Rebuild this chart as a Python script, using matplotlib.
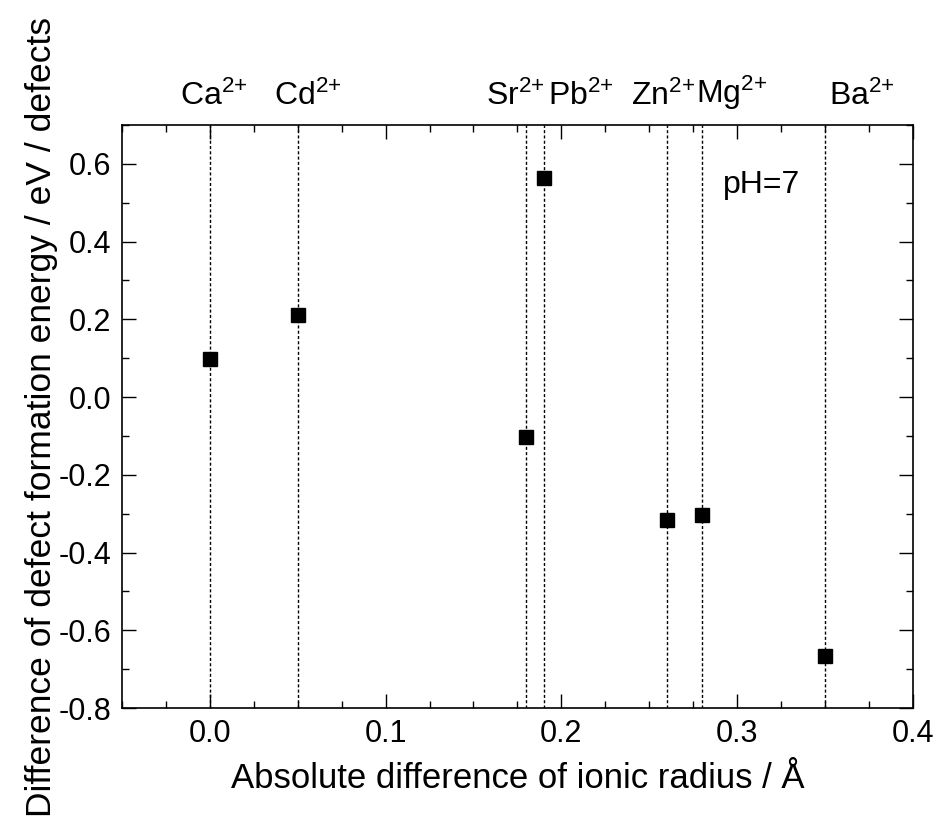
import matplotlib
matplotlib.use("Agg")
import matplotlib.pyplot as plt
from matplotlib.ticker import MultipleLocator

plt.rcParams['font.family'] = ['Liberation Sans', 'DejaVu Sans']
plt.rcParams['mathtext.fontset'] = 'custom'
plt.rcParams['mathtext.rm'] = 'Liberation Sans'
plt.rcParams['mathtext.it'] = 'Liberation Sans'

# data
ions = ['Ca', 'Cd', 'Sr', 'Pb', 'Zn', 'Mg', 'Ba']
radius_diff = [0.0, 0.05, 0.18, 0.19, 0.26, 0.28, 0.35]
energy_diff = [0.097, 0.21, -0.103, 0.563, -0.317, -0.304, -0.667]
# x centres of the ion labels above the frame
label_x = [0.002, 0.056, 0.174, 0.211, 0.258, 0.297, 0.371]

fig = plt.figure(figsize=(9.42, 8.25), dpi=100)
ax = fig.add_axes([0.1295, 0.1418, 0.8395, 0.7067])

for x in radius_diff:
    ax.axvline(x, color='black', lw=1.0, ls=(0, (2.2, 1.6)), zorder=1)

ax.plot(radius_diff, energy_diff, 's', color='black', ms=10, zorder=3)

for name, lx in zip(ions, label_x):
    ax.text(lx, 1.022, name + r'$^{2{+}}$', transform=ax.get_xaxis_transform(),
            ha='center', va='bottom', fontsize=23)

ax.text(0.314, 0.545, 'pH=7', ha='center', va='center', fontsize=23)

ax.set_xlim(-0.05, 0.4)
ax.set_ylim(-0.8, 0.7)
ax.xaxis.set_major_locator(MultipleLocator(0.1))
ax.xaxis.set_minor_locator(MultipleLocator(0.025))
ax.yaxis.set_major_locator(MultipleLocator(0.2))
ax.yaxis.set_minor_locator(MultipleLocator(0.1))
ax.xaxis.set_major_formatter(lambda v, p: f'{v:.1f}')
ax.yaxis.set_major_formatter(lambda v, p: f'{v:.1f}')

ax.tick_params(which='both', direction='in', top=True, right=True,
               width=1.0, labelsize=22)
ax.tick_params(which='major', length=10, pad=8)
ax.tick_params(which='minor', length=5)
for s in ax.spines.values():
    s.set_linewidth(1.2)

ax.set_xlabel('Absolute difference of ionic radius / Å', fontsize=25, labelpad=9)
ax.set_ylabel('Difference of defect formation energy / eV / defects',
              fontsize=25.5, labelpad=0)

fig.savefig('out.png', dpi=100)
